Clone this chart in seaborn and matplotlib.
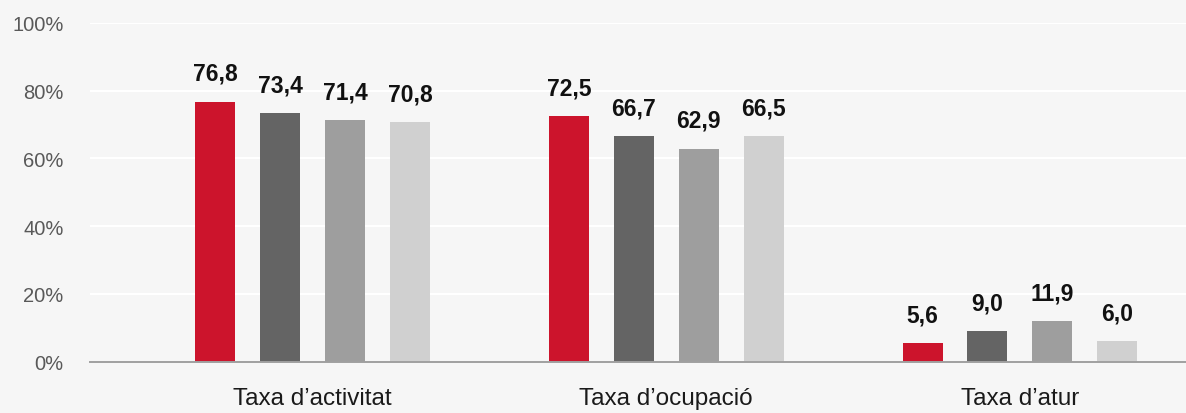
import pandas as pd
import matplotlib.pyplot as plt
import seaborn as sns

# Dades del gràfic
categories = ["Taxa d’activitat", "Taxa d’ocupació", "Taxa d’atur"]
series = ["Sèrie 1", "Sèrie 2", "Sèrie 3", "Sèrie 4"]
valors_s1 = [76.8, 72.5, 5.6]
valors_s2 = [73.4, 66.7, 9.0]
valors_s3 = [71.4, 62.9, 11.9]
valors_s4 = [70.8, 66.5, 6.0]
y_ticks = [0, 20, 40, 60, 80, 100]
y_tick_labels = ["0%", "20%", "40%", "60%", "80%", "100%"]

colors = ["#cc142c", "#646464", "#9e9e9e", "#d0d0d0"]
bg = "#f6f6f6"

# taula llarga per seaborn
rows = []
for serie, vals in zip(series, [valors_s1, valors_s2, valors_s3, valors_s4]):
    for cat, v in zip(categories, vals):
        rows.append({"categoria": cat, "serie": serie, "valor": v})
df = pd.DataFrame(rows)

sns.set_theme(style="white")
plt.rcParams['font.family'] = ['Liberation Sans', 'DejaVu Sans']

fig = plt.figure(figsize=(11.86, 4.14), dpi=100, facecolor=bg)
ax = fig.add_axes([90 / 1186, 1 - 362.7 / 414, 1 - 90 / 1186, (362.7 - 24) / 414])
ax.set_facecolor(bg)

sns.barplot(data=df, x="categoria", y="valor", hue="serie", order=categories,
            hue_order=series, palette=colors, width=0.734, gap=0.383,
            saturation=1, legend=False, linewidth=0, ax=ax)

# etiquetes sobre les barres
for cont in ax.containers:
    labels = [f"{b.get_height():.1f}".replace('.', ',') for b in cont]
    ax.bar_label(cont, labels=labels, padding=12, fontsize=16.5, fontweight='bold',
                 color="#111111", clip_on=False)

ax.set_ylim(0, 100)
ax.set_xlim(-0.63, 2.47)
ax.set_yticks(y_ticks)
ax.set_yticklabels(y_tick_labels)
ax.yaxis.grid(True, color="white", linewidth=1.5)
ax.set_axisbelow(True)

ax.tick_params(axis='y', length=0, pad=19, labelsize=14.5, labelcolor="#595959")
ax.tick_params(axis='x', length=0, pad=18, labelsize=17.5, labelcolor="#1a1a1a")
ax.set_xlabel("")
ax.set_ylabel("")

for s in ["top", "right", "left"]:
    ax.spines[s].set_visible(False)
ax.spines["bottom"].set_color("#a0a0a0")
ax.spines["bottom"].set_linewidth(1.4)

plt.savefig("out.png", dpi=100, facecolor=bg)
plt.close()
